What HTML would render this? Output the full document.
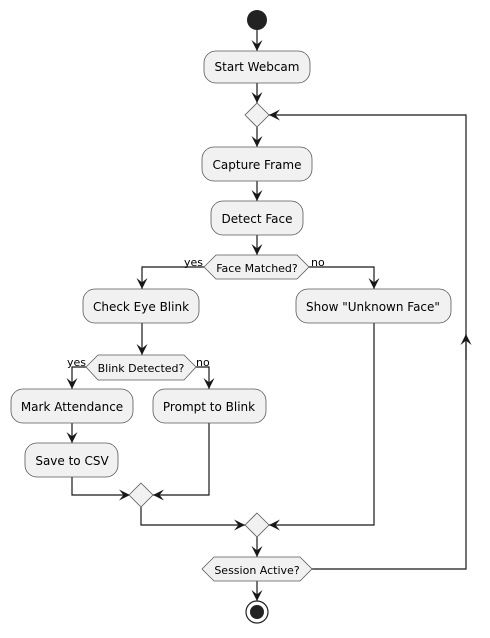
<!DOCTYPE html>
<html><head><style>body{margin:0;background:#fff}</style></head><body>
<svg width="490" height="633" xmlns="http://www.w3.org/2000/svg" font-family="DejaVu Sans, sans-serif">
<defs><marker id="a" viewBox="0 0 10 10" refX="10" refY="5" markerWidth="11" markerHeight="11" orient="auto" markerUnits="userSpaceOnUse"><path d="M0,0 L10,5 L0,10 L4,5 Z" fill="#181818"/></marker></defs>
<g stroke="#181818" stroke-width="1.2" fill="none">
<line x1="257" y1="30" x2="257" y2="51" marker-end="url(#a)"/>
<line x1="257" y1="83" x2="257" y2="103" marker-end="url(#a)"/>
<line x1="257" y1="127" x2="257" y2="147" marker-end="url(#a)"/>
<line x1="257" y1="181" x2="257" y2="201" marker-end="url(#a)"/>
<line x1="257" y1="235" x2="257" y2="255" marker-end="url(#a)"/>
<polyline points="204,267 142,267 142,289" marker-end="url(#a)"/>
<polyline points="309,267 374,267 374,289" marker-end="url(#a)"/>
<line x1="142" y1="323" x2="142" y2="355" marker-end="url(#a)"/>
<polyline points="86,367 72,367 72,389" marker-end="url(#a)"/>
<polyline points="196,367 209,367 209,389" marker-end="url(#a)"/>
<line x1="72" y1="423" x2="72" y2="443" marker-end="url(#a)"/>
<polyline points="72,477 72,495 130,495" marker-end="url(#a)"/>
<polyline points="209,423 209,495 153,495" marker-end="url(#a)"/>
<polyline points="141,507 141,525 245,525" marker-end="url(#a)"/>
<polyline points="374,323 374,525 269,525" marker-end="url(#a)"/>
<line x1="257" y1="537" x2="257" y2="557" marker-end="url(#a)"/>
<line x1="257" y1="581" x2="257" y2="601" marker-end="url(#a)"/>
<polyline points="312,569 466,569 466,115 269,115" marker-end="url(#a)"/>
<line x1="466" y1="360" x2="466" y2="334" marker-end="url(#a)"/>
</g>
<circle cx="257" cy="20" r="10" fill="#222"/>
<circle cx="257" cy="612" r="11" fill="none" stroke="#222" stroke-width="1.2"/>
<circle cx="257" cy="612" r="7" fill="#222"/>
<g fill="#f1f1f1" stroke="#5a5a5a" stroke-width="0.8">
<rect x="204" y="51" width="106" height="32" rx="12"/>
<rect x="202" y="147" width="110" height="34" rx="12"/>
<rect x="211" y="201" width="92" height="34" rx="12"/>
<rect x="83" y="289" width="116" height="34" rx="12"/>
<rect x="296" y="289" width="155" height="34" rx="12"/>
<rect x="11" y="389" width="122" height="34" rx="12"/>
<rect x="153" y="389" width="113" height="34" rx="12"/>
<rect x="25" y="443" width="93" height="34" rx="12"/>
<polygon points="257,103 269,115 257,127 245,115"/>
<polygon points="141,483 153,495 141,507 129,495"/>
<polygon points="257,513 269,525 257,537 245,525"/>
<polygon points="204,267 216,255 297,255 309,267 297,279 216,279"/>
<polygon points="86,367 98,355 184,355 196,367 184,380 98,380"/>
<polygon points="202,569 214,557 300,557 312,569 300,581 214,581"/>
</g>
<g fill="#000" font-size="12" text-anchor="middle">
<text x="257" y="71">Start Webcam</text>
<text x="257" y="169">Capture Frame</text>
<text x="257" y="223">Detect Face</text>
<text x="141" y="311">Check Eye Blink</text>
<text x="373" y="311">Show "Unknown Face"</text>
<text x="72" y="411">Mark Attendance</text>
<text x="209" y="411">Prompt to Blink</text>
<text x="72" y="465">Save to CSV</text>
</g>
<g fill="#000" font-size="11" text-anchor="middle">
<text x="257" y="272">Face Matched?</text>
<text x="141" y="372">Blink Detected?</text>
<text x="257" y="574">Session Active?</text>
</g>
<g fill="#000" font-size="11">
<text x="184" y="266">yes</text>
<text x="311" y="266">no</text>
<text x="67" y="366">yes</text>
<text x="196" y="366">no</text>
</g>
</svg>
</body></html>
